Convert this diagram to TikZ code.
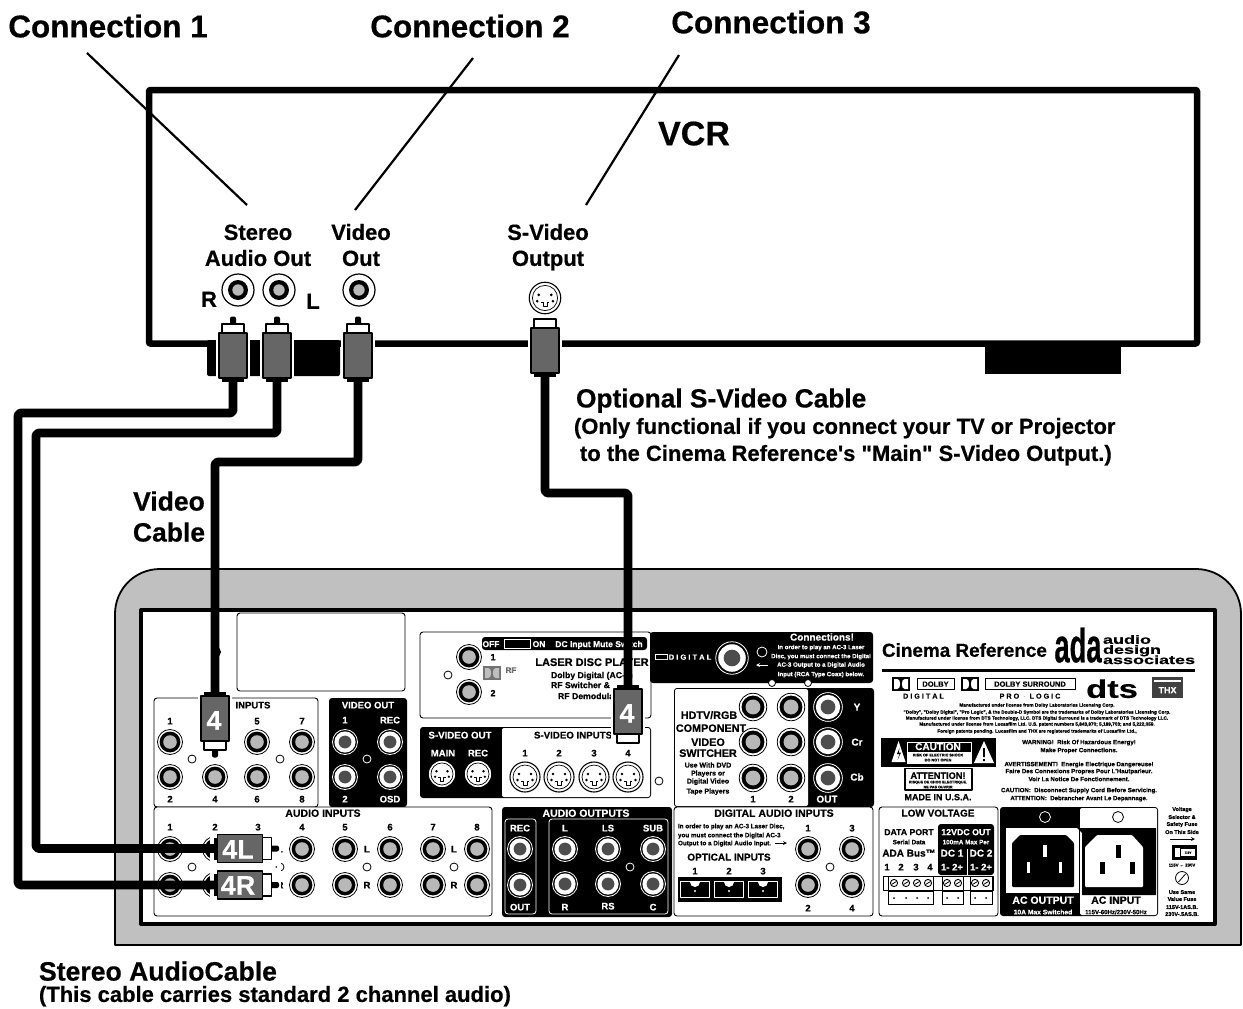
\documentclass[tikz,border=0pt]{standalone}
\usepackage{fontspec}
\setmainfont{Liberation Sans}[BoldFont={Liberation Sans Bold},BoldFeatures={FakeBold=0.5}]
\usetikzlibrary{calc}
\definecolor{pg}{HTML}{C0C0C0}
\definecolor{plugg}{HTML}{666666}
\definecolor{dk}{HTML}{4D4D4D}
\definecolor{jg}{HTML}{B8B8B8}
\newcounter{tn}
\newcommand\dq{\XeTeXglyph\XeTeXcharglyph"0022\relax}
\newcommand\sq{\XeTeXglyph\XeTeXcharglyph"0027\relax}
\tikzset{
  lbl/.style={inner sep=0pt,outer sep=0pt,align=center,font=\bfseries},
  pnl/.style={draw=black,line width=.9pt,rounded corners=3pt,fill=white},
  bpnl/.style={fill=black,rounded corners=3pt},
  cable/.style={line width=8.8pt,draw=black,rounded corners=3pt,line cap=butt},
  leader/.style={line width=2.2pt,draw=black},
  hole/.style={draw=black,line width=.8pt,fill=white},
  whole/.style={draw=white,line width=.8pt,fill=black},
  arrowline/.style={line width=.8pt,-stealth}
}
% \Tx[anchor]{size}{x}{y}{text}
\newcommand\Tx[5][center]{\stepcounter{tn}\node[lbl,anchor=#1,text height={#2*0.72pt},text depth=0pt] (t\arabic{tn}) at (#3,#4) {\fontsize{#2}{#2}\selectfont #5};}
\newcommand\Tw[5][center]{\stepcounter{tn}\node[lbl,anchor=#1,text=white,text height={#2*0.72pt},text depth=0pt] (t\arabic{tn}) at (#3,#4) {\fontsize{#2}{#2}\selectfont #5};}
% jacks
\newcommand\jackv[2]{\begin{scope}[shift={(#1,#2)}]
  \draw[fill=white,line width=1.2pt] (0,0) circle (16);
  \fill[black] (0,0) circle (10);
  \fill[jg] (0,0) circle (5.7);
\end{scope}}
\newcommand\jackw[3][1]{\begin{scope}[shift={(#2,#3)},scale=#1]
  \draw[fill=white,line width=.8pt] (0,0) circle (12.5);
  \fill[black] (0,0) circle (10.4);
  \fill[jg] (0,0) circle (6.8);
\end{scope}}
\newcommand\jackb[3][1]{\begin{scope}[shift={(#2,#3)},scale=#1]
  \draw[draw=white,line width=.8pt] (0,0) circle (12.5);
  \fill[white] (0,0) circle (10.6);
  \fill[dk] (0,0) circle (6.4);
\end{scope}}
\newcommand\svid[3][1]{\begin{scope}[shift={(#2,#3)},scale=#1]
  \draw[fill=white,line width=1.1pt] (0,0) circle (15);
  \draw[line width=.7pt] (0,0) circle (12);
  \fill (-6,-3) circle (1.4) (6,-3) circle (1.4) (-7.5,3) circle (1.4) (7.5,3) circle (1.4);
  \draw[line width=.7pt] (-4,4) -- (-2,4) -- (-2,8) -- (2,8) -- (2,4) -- (4,4);
\end{scope}}
% plugs: #1 name, #2 x, #3 y, #4 rotation, #5 tip 0/1
\newcommand\plug[5]{\begin{scope}[shift={(#2,#3)},rotate=#4]
  \fill[white] (-17,{#5==1 ? -41 : -35}) rectangle (17,30);
  \ifnum#5=1 \fill[black,rounded corners=2pt] (-3,-39) rectangle (3,-30); \fi
  \draw[fill=white,line width=1.3pt] (-11,-31.5) rectangle (11,-22.5);
  \draw[fill=plugg,line width=1.6pt] (-14,-22.5) rectangle (14,22.5);
  \fill[black] (-11,22.5) rectangle (11,26.5);
  \coordinate (#1) at (0,26);
\end{scope}}
\newcommand\dd[4]{\begin{scope}[shift={(#1,#2)}]
  \fill[#4] (0,0) rectangle (#3,14);
  \fill[white] (2,2) -- ({.30*#3},2) .. controls ({.50*#3},2) and ({.50*#3},12) .. ({.30*#3},12) -- (2,12) -- cycle;
  \fill[white] ({#3-2},2) -- ({.70*#3},2) .. controls ({.50*#3},2) and ({.50*#3},12) .. ({.70*#3},12) -- ({#3-2},12) -- cycle;
\end{scope}}
\begin{document}
\begin{tikzpicture}[x=1pt,y=-1pt,line join=round]
\useasboundingbox (0,0) rectangle (1243,1009);
\fill[white] (0,0) rectangle (1243,1009);

%%% VCR
\fill[black,rounded corners=2pt] (207,340) rectangle (340,376);
\fill[black] (985,344) rectangle (1121,374);
\draw[line width=6.5pt,rounded corners=1pt] (149,343.5) -- (149,90) -- (1197,90) -- (1197,343.5) -- cycle;

%%% labels on top
\Tx{31.5}{108}{26}{Connection 1}
\Tx{31.5}{470}{26}{Connection 2}
\Tx{31.5}{771}{22}{Connection 3}
\Tx{34}{694}{133}{VCR}
\Tx{22}{258}{232}{Stereo}
\Tx{22}{258}{258}{Audio Out}
\Tx{22}{361}{232}{Video}
\Tx{22}{361}{258}{Out}
\Tx{22}{548}{232}{S-Video}
\Tx{22}{548}{258}{Output}
\Tx{22}{209}{299}{R}
\Tx{22}{313}{301}{L}
\coordinate (l1a) at (87,53); \coordinate (l1b) at (247,205);
\coordinate (l2a) at (473,58); \coordinate (l2b) at (355,210);
\coordinate (l3a) at (679,55); \coordinate (l3b) at (586,205);
\draw[leader] (l1a) -- (l1b);
\draw[leader] (l2a) -- (l2b);
\draw[leader] (l3a) -- (l3b);

\jackv{238}{290}
\jackv{279}{290}
\jackv{359}{290}
\svid[1.05]{545}{298}

%%% Plugs at VCR
\plug{pR}{233}{355.5}{0}{1}
\plug{pL}{277}{355.5}{0}{1}
\plug{pV}{358}{355.5}{0}{1}
\plug{pS}{545}{350.5}{0}{0}

\Tx[west]{26.3}{576}{398}{Optional S-Video Cable}
\Tx[west]{22}{574}{426}{(Only functional if you connect your TV or Projector}
\Tx[west]{22}{580}{453}{to the Cinema Reference\sq s \dq Main\dq\ S-Video Output.)}
\Tx{26.5}{169}{501}{Video}
\Tx{26.5}{169}{532}{Cable}
\Tx[west]{26.6}{39}{971}{Stereo AudioCable}
\Tx[west]{22}{39}{994}{(This cable carries standard 2 channel audio)}

%%% Rear panel
\draw[fill=pg,line width=1.8pt] (115,945) -- (115,614) .. controls (115,589) and (135,569) .. (160,569) -- (1196,569) .. controls (1221,569) and (1241,589) .. (1241,614) -- (1241,945) -- cycle;
\draw[fill=white,line width=4pt] (141,610) rectangle (1215,924);

% blank box
\draw[pnl] (237,613) rectangle (405,691);
\fill[black] (216,652) circle (5);

% INPUTS
\draw[pnl] (154,698) rectangle (318,807);
\Tx{9.5}{253}{705}{INPUTS}
\foreach \x/\b in {170/2,215/4,257/6,302/8}{
  \Tx{9.5}{\x}{799}{\b}
  \jackw{\x}{742}\jackw{\x}{777}}
\foreach \x/\a in {170/1,257/5,302/7}{\Tx{9.5}{\x}{721}{\a}}
\draw[hole] (192,759) circle (4); \draw[hole] (280,759) circle (4);

% VIDEO OUT
\fill[bpnl] (329,698) rectangle (407,807);
\Tw{9.5}{368}{705}{VIDEO OUT}
\Tw{9.5}{345}{720}{1}\Tw{9.5}{390}{720}{REC}
\Tw{9.5}{345}{799}{2}\Tw{9.5}{390}{799}{OSD}
\foreach \x in {345,390}{\jackb{\x}{742}\jackb{\x}{777}}
\draw[whole] (367,759) circle (4);

% LASER DISC
\draw[pnl] (420,632) rectangle (651,718);
\fill[bpnl] (482,637) rectangle (647,650);
\Tw{8.5}{491}{644}{OFF}
\draw[white,line width=.8pt] (504,639.5) rectangle (530,648);
\Tw{8.5}{539}{644}{ON}
\Tw{8.5}{599}{644}{DC Input Mute Switch}
\jackw{469}{657}\jackw{469}{692}
\Tx{9}{493}{657}{1}\Tx{9}{493}{693}{2}
\draw[hole] (448,675) circle (4);
\begin{scope}[opacity=.55]
\dd{483}{666}{18}{black}
\Tx{8}{511}{670}{RF}
\end{scope}
\Tx{11}{592}{662}{LASER DISC PLAYER}
\Tx[west]{8.7}{551}{675}{Dolby Digital (AC-3)}
\Tx[west]{8.7}{551}{685}{RF Switcher \& AC-3}
\Tx[west]{8.7}{558}{696}{RF Demodulator}

% DIGITAL black
\fill[bpnl] (650,632) rectangle (873,683);
\fill[white] (655,654) rectangle (668,660);
\fill[black] (656,655) rectangle (661.3,659) (661.7,655) rectangle (667,659);
\Tw{7.5}{690}{657}{D I G I T A L}
\jackb[1.3]{732}{658}
\draw[whole] (762,652) circle (5);
\Tw{10}{822}{637}{Connections!}
\Tw{6.1}{821}{647}{In order to play an AC-3 Laser}
\Tw{6.1}{821}{656}{Disc, you must connect the Digital}
\Tw{6.1}{821}{664.5}{AC-3 Output to a Digital Audio}
\Tw{6.1}{821}{674}{Input (RCA Type Coax) below.}
\coordinate (ara) at (768,665); \coordinate (arb) at (756,665);
\draw[arrowline,draw=white] (ara) -- (arb);
\draw[hole,draw=black] (772,683) circle (3.5);
\draw[hole,draw=black] (808,683) circle (3.5);

% S-VIDEO
\fill[bpnl] (420,727) rectangle (651,798);
\fill[white,rounded corners=2pt] (502,728) rectangle (650,797);
\Tw{9.7}{460}{735}{S-VIDEO OUT}
\Tw{9.5}{443}{753}{MAIN}\Tw{9.5}{478}{753}{REC}
\svid[.92]{442}{774}\svid[.92]{478}{774}
\Tx[west]{9.7}{534}{735}{S-VIDEO INPUTS}
\foreach \x/\n in {525/1,559/2,594/3,628/4}{\Tx{9.5}{\x}{753}{\n}\svid{\x}{777}}
\draw[hole] (659,781) circle (4);

% HDTV
\fill[bpnl] (674,688) rectangle (874,807);
\fill[white,rounded corners=2pt] (675,689) rectangle (808,806);
\foreach \y in {707,742,778}{\jackw[1.1]{753}{\y}\jackw[1.1]{791}{\y}\jackb[1.15]{828}{\y}}
\Tw{10}{857}{707}{Y}\Tw{10}{857}{742}{Cr}\Tw{10}{857}{777}{Cb}
\Tw{10}{827}{799}{OUT}
\Tx{9.5}{753}{799}{1}\Tx{9.5}{791}{799}{2}
\Tx{10.8}{709}{715}{HDTV/RGB}
\Tx{10.8}{711}{728}{COMPONENT}
\Tx{10.8}{708}{742}{VIDEO}
\Tx{10.8}{708}{753}{SWITCHER}
\Tx{7}{708}{765}{Use With DVD}
\Tx{7}{708}{773}{Players or}
\Tx{7}{708}{781}{Digital Video}
\Tx{7}{708}{791}{Tape Players}

% AUDIO INPUTS
\draw[pnl] (154,807) rectangle (492,916);
\Tx{10.5}{323}{813}{AUDIO INPUTS}
\foreach \x/\n in {170/1,215/2,258/3,302/4,345/5,390/6,433/7,477/8}{
  \Tx{9.5}{\x}{827}{\n}\jackw{\x}{849}\jackw{\x}{885}}
\foreach \x in {192,280,367,454}{\draw[hole] (\x,867) circle (4);\Tx{9.5}{\x}{849}{L}\Tx{9.5}{\x}{885}{R}}

% AUDIO OUTPUTS
\fill[bpnl] (502,807) rectangle (672,917);
\Tw{10.5}{586}{813}{AUDIO OUTPUTS}
\draw[white,line width=.8pt,rounded corners=3pt] (505,819) rectangle (536,914);
\draw[white,line width=.8pt,rounded corners=3pt] (549,819) rectangle (668,914);
\Tw{9.5}{520}{828}{REC}\Tw{9.5}{520}{907}{OUT}
\Tw{9.5}{565}{828}{L}\Tw{9.5}{608}{828}{LS}\Tw{9.5}{653}{828}{SUB}
\Tw{9.5}{565}{907}{R}\Tw{9.5}{608}{906}{RS}\Tw{9.5}{653}{907}{C}
\jackb{520}{849}\jackb{520}{885}
\foreach \x in {565,608,653}{\jackb{\x}{849}\jackb{\x}{884}}
\draw[whole] (630,867) circle (4);

% DIGITAL AUDIO INPUTS
\draw[pnl] (674,807) rectangle (873,916);
\Tx{10.5}{774}{813}{DIGITAL AUDIO INPUTS}
\Tx[west]{6.3}{678}{826}{In order to play an AC-3 Laser Disc,}
\Tx[west]{6.3}{678}{835}{you must connect the Digital AC-3}
\Tx[west]{6.3}{678}{843}{Output to a Digital Audio Input.}
\coordinate (arc) at (775,843); \coordinate (ard) at (787,843);
\draw[arrowline] (arc) -- (ard);
\Tx{10}{729}{857}{OPTICAL INPUTS}
\foreach \x/\n in {695/1,729/2,763/3}{
  \Tx{9.5}{\x}{871}{\n}}
\fill (678,877) rectangle (782,902);
\foreach \x in {695,729,763}{
  \draw[white,line width=1.3pt] (\x-14.5,881.5) rectangle (\x+14.5,897.5);
  \fill[white] (\x-5,882) arc[start angle=180,end angle=0,radius=5] -- cycle;
  \fill[white] (\x,891) circle (1.1);}
\foreach \x/\a/\b in {808/1/2,852/3/4}{
  \Tx{9.5}{\x}{828}{\a}\Tx{9.5}{\x}{908}{\b}
  \jackw{\x}{849}\jackw{\x}{885}}
\draw[hole] (830,867) circle (4);

% LOW VOLTAGE
\draw[pnl] (879,807) rectangle (998,916);
\Tx{10}{938}{813}{LOW VOLTAGE}
\Tx{8.7}{909}{832}{DATA PORT}
\Tx{6.3}{909}{842}{Serial Data}
\Tx{10}{909}{853}{ADA Bus™}
\foreach \x/\n in {887/1,901/2,916/3,930/4}{\Tx{9.5}{\x}{867}{\n}}
\fill[bpnl] (938,824) rectangle (994,875);
\Tw{8.8}{966}{832}{12VDC OUT}
\Tw{6.3}{966}{842}{100mA Max Per}
\Tw{10}{952}{853}{DC 1}\Tw{10}{981}{853}{DC 2}
\draw[white,line width=.6pt] (967,849) -- (967,875);
\Tw{9.5}{952}{867}{1- 2+}\Tw{9.5}{981}{867}{1- 2+}
\draw[line width=.7pt,fill=white] (883,876) rectangle (993,890);
\foreach \a/\b in {888/933,942/963,970/992}{
  \draw[line width=.7pt] (\a,876) rectangle (\b,904);
  \draw[line width=.5pt] (\a,891) -- (\b,891);}
\foreach \x in {894,906,917,928,947,958,975,986}{
  \draw[line width=.9pt] (\x,883) circle (3.6);
  \draw[line width=.8pt] (\x-2.5,884.5) -- (\x+2.5,881.5);
  \fill (\x,898) circle (1);}

% AC
\fill[bpnl] (1000,807) rectangle (1158,916);
\fill[white,rounded corners=2pt] (1080,808) rectangle (1157,915);
\fill[white] (1006,828) rectangle (1079,893);
\fill[black,rounded corners=1pt] (1020,835) -- (1066,835) -- (1074,843) -- (1074,887) -- (1012,887) -- (1012,843) -- cycle;
\fill[white] (1043.3,845) rectangle (1046.7,857);
\fill[white] (1026.5,862) rectangle (1029.5,873);
\fill[white] (1058.5,862) rectangle (1061.5,873);
\draw[whole] (1045,817) circle (5.5);
\draw[hole] (1118,817) circle (5.5);
\fill[black] (1077,828) -- (1156,828) -- (1156,895) -- (1082,895) -- (1082,833) -- cycle;
\fill[white,rounded corners=1pt] (1097,835) -- (1132,835) -- (1143,847) -- (1143,887) -- (1085,887) -- (1085,847) -- cycle;
\fill[black] (1115.5,845) rectangle (1120.5,858);
\fill[black] (1099.5,862) rectangle (1104.5,874);
\fill[black] (1130,862) rectangle (1135,874);
\Tw{10.5}{1043}{900}{AC OUTPUT}
\Tw{6.7}{1043}{912}{10A Max Switched}
\Tx{10.5}{1116}{900}{AC INPUT}
\Tx{6.1}{1116}{912}{115V-60Hz/230V-50Hz}

% Fuse
\Tx{5.5}{1182}{809}{Voltage}
\Tx{5.5}{1182}{817}{Selector \&}
\Tx{5.5}{1182}{824}{Safety Fuse}
\Tx{5.5}{1182}{832}{On This Side}
\coordinate (are) at (1170,839); \coordinate (arf) at (1195,839);
\draw[arrowline] (are) -- (arf);
\fill (1172,845) rectangle (1197,860);
\fill[white] (1175,848) rectangle (1180,857);
\fill[white] (1181,849) rectangle (1195,856);
\Tx{3}{1188}{852.5}{115V}
\Tx{4.3}{1182}{865}{115V ← 230V}
\draw[line width=.8pt] (1182,878) circle (6.5);
\draw[line width=.8pt] (1178.5,882) -- (1185.5,874);
\Tx{5.5}{1182}{892}{Use Same}
\Tx{5.5}{1182}{899}{Value Fuse}
\Tx{5.5}{1182}{907}{115V-1AS.B.}
\Tx{5.5}{1182}{914}{230V-.5AS.B.}

% HEADER
\Tx[west]{18.9}{882}{650}{Cinema Reference}
\Tx{48}{1078}{645}{\addfontfeature{FakeBold=12}\scalebox{.57}[1]{ada}}
\Tx[west]{12}{1103}{639.5}{\scalebox{1.5}[1]{audio}}
\Tx[west]{12}{1103}{649.5}{\scalebox{1.5}[1]{design}}
\Tx[west]{12}{1103}{659.7}{\scalebox{1.5}[1]{associates}}
\fill (882,668.5) rectangle (1195,671.5);
\dd{892}{677}{18}{black}
\draw[line width=.9pt] (917,678.5) rectangle (954,689);
\Tx{7.5}{935.5}{684}{DOLBY}
\Tx{7.2}{923.5}{696}{D I G I T A L}
\dd{961}{677}{18}{black}
\draw[line width=.9pt] (985,678.5) rectangle (1075,689);
\Tx{7.5}{1030}{684}{DOLBY SURROUND}
\Tx{7.2}{1030}{696}{P R O \ $\cdot$ \ L O G I C}
\Tx{30}{1112}{687}{\addfontfeature{FakeBold=10}\scalebox{1.15}[.85]{dts}}
\fill[black!75] (1152,677) rectangle (1183,698);
\fill[white] (1154,680) rectangle (1181,681.5);
\Tw{9}{1167.5}{690}{THX}
\Tx{4.7}{1037}{705}{Manufactured under license from Dolby Laboratories Licensing Corp.}
\Tx{4.7}{1037}{712}{\dq Dolby\dq, \dq Dolby Digital\dq, \dq Pro Logic\dq, \& the Double-D Symbol are the trademarks of Dolby Laboratories Licensing Corp.}
\Tx{4.7}{1037}{718}{Manufactured under license from DTS Technology, LLC. DTS Digital Surround is a trademark of DTS Technology LLC.}
\Tx{4.7}{1037}{724}{Manufactured under license from Lucasfilm Ltd. U.S. patent numbers 5,843,970; 5,189,703; and 5,222,059.}
\Tx{4.7}{1037}{731}{Foreign patents pending. Lucasfilm and THX are registered trademarks of Lucasfilm Ltd.,}
% caution
\fill (881,738) rectangle (996,767);
\fill[white] (898.5,741) -- (905.5,762) -- (891.5,762) -- cycle;
\fill[white] (984,741) -- (994,763) -- (974,763) -- cycle;
\fill (983.2,748) rectangle (984.8,757) (983.2,759) rectangle (984.8,761);
\fill[black] (899.5,748) -- (897,754) -- (899.5,754) -- (897.5,760) -- (901,752.5) -- (898.8,752.5) -- cycle;
\fill[white] (907,751.5) rectangle (971,763.5);
\draw[white,line width=.7pt] (907,742) rectangle (971,763.5);
\Tw{10}{938}{746.5}{CAUTION}
\Tx{3.8}{938}{755}{RISK OF ELECTRIC SHOCK}
\Tx{3.8}{938}{760}{DO NOT OPEN}
\draw[line width=1.1pt] (905,768.5) rectangle (972,790);
\Tx{9.2}{938}{775.5}{ATTENTION!}
\Tx{3.7}{938}{782}{RISQUE DE CHOC ELECTRIQUE.}
\Tx{3.7}{938}{787}{NE PAS OUVRIR}
\Tx{9}{938}{797}{MADE IN U.S.A.}
\Tx{6.1}{1079}{742}{WARNING! \ Risk Of Hazardous Energy!}
\Tx{6.1}{1079}{750}{Make Proper Connections.}
\Tx{6.1}{1079}{764}{AVERTISSEMENT! \ Energie Electrique Dangereuse!}
\Tx{6.1}{1079}{771}{Faire Des Connexions Propres Pour L\sq Hautparleur.}
\Tx{6.1}{1079}{779}{Voir La Notice De Fonctionnement.}
\Tx{6.1}{1079}{790}{CAUTION: \ Disconnect Supply Cord Before Servicing.}
\Tx{6.1}{1079}{798}{ATTENTION: \ Debrancher Avant Le Depannage.}

%%% Plugs in panel
\plug{qV}{215}{718.5}{180}{1}
\plug{qS}{628}{711.5}{180}{0}
\plug{qL}{240}{848.5}{-90}{1}
\plug{qR}{240}{885}{-90}{1}
\Tw{27}{214}{720}{4}
\Tw{27}{627}{713}{4}
\Tw{27}{238}{849}{4L}
\Tw{27}{238}{885}{4R}

%%% Cables
\coordinate (c1) at (233,413); \coordinate (c2) at (18,413); \coordinate (c3) at (18,885);
\coordinate (d1) at (277,433); \coordinate (d2) at (36,433); \coordinate (d3) at (36,848.5);
\coordinate (e1) at (358,462); \coordinate (e2) at (215,462);
\coordinate (f1) at (545,493); \coordinate (f2) at (628,493);
\draw[cable] (pR) -- (c1) -- (c2) -- (c3) -- (qR);
\draw[cable] (pL) -- (d1) -- (d2) -- (d3) -- (qL);
\draw[cable] (pV) -- (e1) -- (e2) -- (qV);
\draw[cable] (pS) -- (f1) -- (f2) -- (qS);
\end{tikzpicture}
\end{document}
